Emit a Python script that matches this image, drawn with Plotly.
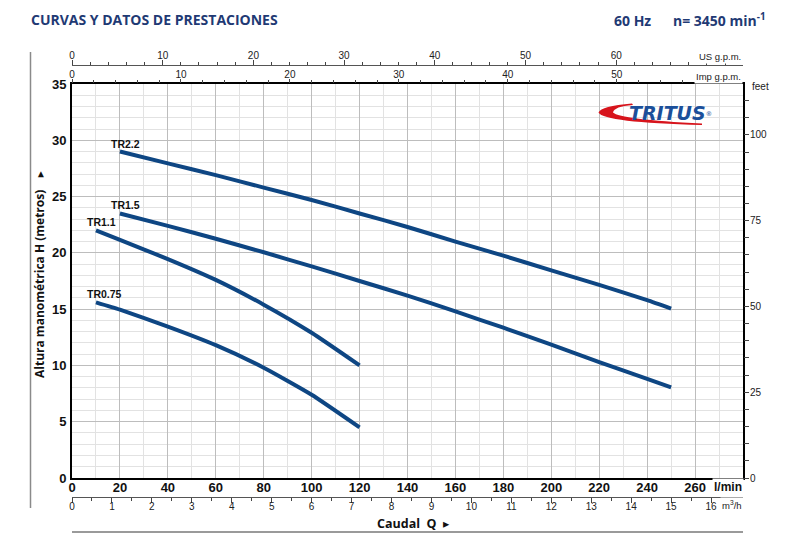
import plotly.graph_objects as go

# ---------------- data ----------------
SERIES = ["TR2.2", "TR1.5", "TR1.1", "TR0.75"]
Q_TR22 = [20, 40, 60, 80, 100, 120, 140, 160, 180, 200, 220, 240, 250]
H_TR22 = [29.0, 27.95, 26.9, 25.8, 24.7, 23.5, 22.3, 21.0, 19.75, 18.45, 17.15, 15.8, 15.05]
Q_TR15 = [20, 40, 60, 80, 100, 120, 140, 160, 180, 200, 220, 240, 250]
H_TR15 = [23.5, 22.4, 21.25, 20.05, 18.8, 17.5, 16.2, 14.8, 13.35, 11.85, 10.3, 8.8, 8.05]
Q_TR11 = [10, 20, 40, 60, 80, 100, 120]
H_TR11 = [22.0, 21.15, 19.45, 17.6, 15.4, 12.9, 10.0]
Q_TR075 = [10, 20, 40, 60, 80, 100, 120]
H_TR075 = [15.6, 14.95, 13.45, 11.8, 9.8, 7.4, 4.5]

X_TICKS = list(range(0, 261, 20))          # l/min
Y_TICKS = list(range(0, 36, 5))            # m
US_TICKS = list(range(0, 61, 10))          # US g.p.m.
IMP_TICKS = list(range(0, 51, 10))         # Imp g.p.m.
M3H_TICKS = list(range(0, 17, 1))          # m3/h
FT_TICKS = list(range(0, 101, 25))         # feet

Q_MAX = 280.0
H_MAX = 35.0
LPM_PER_USGPM = 3.785
LPM_PER_IMPGPM = 4.546
LPM_PER_M3H = 1000.0 / 60.0
M_PER_FT = 0.3048

# ---------------- geometry helpers (decoration only) ----------------
W, HGT = 800, 541
ML, MR, MT, MB = 72, 57, 40, 20
PW = W - ML - MR
PH = HGT - MT - MB
def px(x):
    return (x - ML) / PW
def py(y):
    return (HGT - MB - y) / PH

Y_DOMAIN = [py(478), py(84)]

SANS = "Liberation Sans Narrow, Arial Narrow, Liberation Sans, Arial, sans-serif"
HUMAN = "Open Sans, Lato, DejaVu Sans, sans-serif"
NAVY = "#1f3a74"
CURVE = "#0e4683"

fig = go.Figure()
for name, q, h in [("TR2.2", Q_TR22, H_TR22), ("TR1.5", Q_TR15, H_TR15),
                   ("TR1.1", Q_TR11, H_TR11), ("TR0.75", Q_TR075, H_TR075)]:
    fig.add_trace(go.Scatter(x=q, y=h, mode="lines", name=name,
                             line=dict(color=CURVE, width=4, shape="spline", smoothing=0.5),
                             showlegend=False, hoverinfo="skip"))
    fig.add_annotation(x=q[0], y=h[0], xref="x", yref="y", text="<b>" + name + "</b>",
                       showarrow=False, xanchor="left", yanchor="bottom",
                       xshift=-11, yshift=0,
                       font=dict(family=SANS, size=10.5, color="#111"))

# dummy traces so secondary axes are drawn
for xa in ["x2", "x3", "x4"]:
    fig.add_trace(go.Scatter(x=[], y=[], xaxis=xa, yaxis="y", showlegend=False, hoverinfo="skip"))
fig.add_trace(go.Scatter(x=[], y=[], xaxis="x", yaxis="y2", showlegend=False, hoverinfo="skip"))

tick_small = dict(family=SANS, size=10, color="#222")
tick_big = dict(family=SANS, size=13, color="#111", weight="bold")

fig.update_layout(
    width=W, height=HGT,
    margin=dict(l=ML, r=MR, t=MT, b=MB),
    paper_bgcolor="white", plot_bgcolor="white",
    xaxis=dict(range=[0, Q_MAX], domain=[0, 1], anchor="y",
               tickmode="array", tickvals=X_TICKS, ticktext=[str(v) for v in X_TICKS],
               ticks="", ticklabelstandoff=-4,
               showgrid=True, gridcolor="#bdbdbd", gridwidth=1,
               minor=dict(tick0=0, dtick=10, showgrid=True, gridcolor="#e2e2e2", gridwidth=1),
               showline=True, linecolor="#000", linewidth=2, mirror=True,
               tickfont=tick_big, zeroline=False, fixedrange=True),
    yaxis=dict(range=[0, H_MAX], domain=Y_DOMAIN, anchor="x",
               tickmode="array", tickvals=Y_TICKS, ticktext=[str(v) for v in Y_TICKS],
               ticks="", ticklabelstandoff=1,
               showgrid=True, gridcolor="#bdbdbd", gridwidth=1,
               minor=dict(tick0=0, dtick=1, showgrid=True, gridcolor="#e2e2e2", gridwidth=1),
               showline=True, linecolor="#000", linewidth=2, mirror=True,
               tickfont=tick_big, zeroline=False, fixedrange=True),
    xaxis2=dict(range=[0, Q_MAX / LPM_PER_IMPGPM], overlaying="x", side="top", anchor="y",
                tickmode="array", tickvals=IMP_TICKS, ticktext=[str(v) for v in IMP_TICKS],
                ticks="outside", ticklen=4, tickcolor="#444", tickwidth=1, ticklabelstandoff=-3,
                minor=dict(tick0=0, dtick=2, ticks="outside", ticklen=3, tickcolor="#444"),
                showgrid=False, showline=False, zeroline=False, tickfont=tick_small),
    xaxis3=dict(range=[0, Q_MAX / LPM_PER_USGPM], overlaying="x", side="top", anchor="free",
                position=py(65),
                tickmode="array", tickvals=US_TICKS, ticktext=[str(v) for v in US_TICKS],
                ticks="outside", ticklen=5, tickcolor="#444", tickwidth=1, ticklabelstandoff=-3,
                minor=dict(tick0=0, dtick=2, ticks="outside", ticklen=3, tickcolor="#444"),
                showgrid=False, showline=True, linecolor="#555", linewidth=1,
                zeroline=False, tickfont=tick_small),
    xaxis4=dict(range=[0, Q_MAX / LPM_PER_M3H], overlaying="x", side="bottom", anchor="free",
                position=py(497),
                tickmode="array", tickvals=M3H_TICKS, ticktext=[str(v) for v in M3H_TICKS],
                ticks="outside", ticklen=5, tickcolor="#444", tickwidth=1, ticklabelstandoff=-5,
                minor=dict(tick0=0, dtick=0.5, ticks="outside", ticklen=3, tickcolor="#444"),
                showgrid=False, showline=True, linecolor="#555", linewidth=1,
                zeroline=False, tickfont=tick_small),
    yaxis2=dict(range=[0, H_MAX / M_PER_FT], overlaying="y", side="right", anchor="x",
                tickmode="array", tickvals=FT_TICKS, ticktext=[str(v) for v in FT_TICKS],
                ticks="outside", ticklen=5, tickcolor="#444", tickwidth=1, ticklabelstandoff=-1,
                minor=dict(tick0=0, dtick=5, ticks="outside", ticklen=5, tickcolor="#444"),
                showgrid=False, showline=False, zeroline=False, tickfont=tick_small),
)

ann = []
ann.append(dict(x=px(29), y=py(19.5), text="<b>CURVAS Y DATOS DE PRESTACIONES</b>",
                xanchor="left", yanchor="middle", font=dict(family=HUMAN, size=14, color=NAVY)))
ann.append(dict(x=px(768), y=py(19.5),
                text="<b>60 Hz&nbsp;&nbsp;&nbsp;&nbsp;&nbsp; n= 3450 min<sup>-1</sup></b>",
                xanchor="right", yanchor="middle", font=dict(family=HUMAN, size=14, color=NAVY)))
ann.append(dict(x=px(743), y=py(56), text="US g.p.m.", xanchor="right", yanchor="middle",
                font=dict(family=SANS, size=9.5, color="#222"), bgcolor="white"))
ann.append(dict(x=px(743), y=py(76), text="Imp g.p.m.", xanchor="right", yanchor="middle",
                font=dict(family=SANS, size=9.5, color="#222"), bgcolor="white"))
ann.append(dict(x=px(744), y=py(487), text="<b>l/min</b>", xanchor="right", yanchor="middle",
                font=dict(family=SANS, size=12, color="#111"), bgcolor="white"))
ann.append(dict(x=px(744), y=py(505), text="m<sup>3</sup>/h", xanchor="right", yanchor="middle",
                font=dict(family=SANS, size=9.5, color="#222"), bgcolor="white"))
ann.append(dict(x=px(750), y=py(87), text="feet", xanchor="left", yanchor="middle",
                font=dict(family=SANS, size=10, color="#222")))
ann.append(dict(x=px(413), y=py(523), text="<b>Caudal  Q</b>  ▸", xanchor="center", yanchor="middle",
                font=dict(family=HUMAN, size=12.5, color="#111")))
ann.append(dict(x=px(39), y=py(275), text="<b>Altura manométrica H (metros)</b>    ▸", textangle=-90,
                xanchor="center", yanchor="middle", font=dict(family=HUMAN, size=12, color="#111")))
ann.append(dict(x=px(670), y=py(113),
                text="<b><i>TRITUS</i></b><span style='font-size:9px'><sup>®</sup></span>",
                xanchor="center", yanchor="middle",
                font=dict(family="DejaVu Sans, sans-serif", size=19, color="#1b4f9a")))
for a in ann:
    a.update(xref="paper", yref="paper", showarrow=False)
    fig.add_annotation(**a)

def P(x, y):
    return "%.5f,%.5f" % (px(x), py(y))

swoosh = ("M " + P(632, 103.5) + " Q " + P(601, 106) + " " + P(598.5, 112.5) +
          " Q " + P(604, 122.5) + " " + P(702, 125) + " L " + P(702, 123.6) +
          " Q " + P(620, 119.5) + " " + P(613, 112.5) + " Q " + P(614, 106.5) + " " + P(633, 105) + " Z")

shapes = [
    dict(type="path", path=swoosh, xref="paper", yref="paper", fillcolor="#d7141c",
         line=dict(width=0), layer="above"),
    dict(type="line", xref="paper", yref="paper", x0=px(30.5), x1=px(30.5), y0=py(52), y1=py(508),
         line=dict(color="#8a8a8a", width=1.5)),
    dict(type="line", xref="paper", yref="paper", x0=px(72), x1=px(743), y0=py(532), y1=py(532),
         line=dict(color="#9a9a9a", width=2)),
]
fig.update_layout(shapes=shapes)

fig.write_html("out.html")
